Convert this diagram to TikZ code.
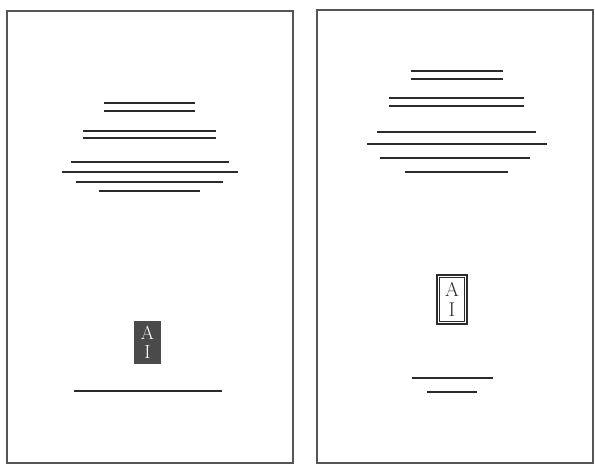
\documentclass[tikz,border=0pt]{standalone}
\usetikzlibrary{positioning}
\definecolor{ink}{HTML}{2B2B2B}
\definecolor{frame}{HTML}{555555}
\definecolor{tagfill}{HTML}{4A4A4A}
\tikzset{
  page/.style={draw=frame, line width=1.4pt},
  rule/.style={draw=ink, line width=1.9pt},
  fine/.style={draw=ink, line width=1.2pt},
  logo/.style={align=center, inner sep=0pt},
  logodark/.style={logo, fill=tagfill, text=white, minimum width=27pt, minimum height=43pt,
    font=\fontsize{19}{19}\selectfont},
  logoline/.style={logo, draw=ink, line width=1.8pt, text=ink, minimum width=30pt, minimum height=49pt,
    font=\fontsize{20}{20}\selectfont},
}

\begin{document}
\begin{tikzpicture}[x=1pt, y=-1pt]
  \useasboundingbox (0,0) rectangle (595,464);

  % pages
  \draw[page] (7,11) rectangle (293,463);
  \draw[page] (317,10) rectangle (593,463);

  % left page: title block
  \foreach \xa/\xb/\y in {104/195/103, 104/195/111, 83/216/131, 83/216/138} {
    \draw[rule] (\xa,\y) -- (\xb,\y);
  }
  \foreach \xa/\xb/\y in {71/229/162, 62/238/172, 76/223/182, 99/200/191, 74/222/391} {
    \draw[fine] (\xa,\y) -- (\xb,\y);
  }
  \node[logodark] (tagl) at (147.5,342.5) {A\\I};

  % right page: title block
  \foreach \xa/\xb/\y in {411/503/71, 411/503/79, 389/524/98, 389/524/106} {
    \draw[rule] (\xa,\y) -- (\xb,\y);
  }
  \foreach \xa/\xb/\y in {377/536/132, 367/547/144, 380/530/158, 405/508/172, 412/493/378, 427/477/392} {
    \draw[fine] (\xa,\y) -- (\xb,\y);
  }
  \node[logoline] (tagr) at (452,299.5) {A\\I};
  \draw[ink, line width=0.9pt] ([shift={(3pt,-3pt)}]tagr.north west) rectangle ([shift={(-3pt,3pt)}]tagr.south east);
\end{tikzpicture}
\end{document}
